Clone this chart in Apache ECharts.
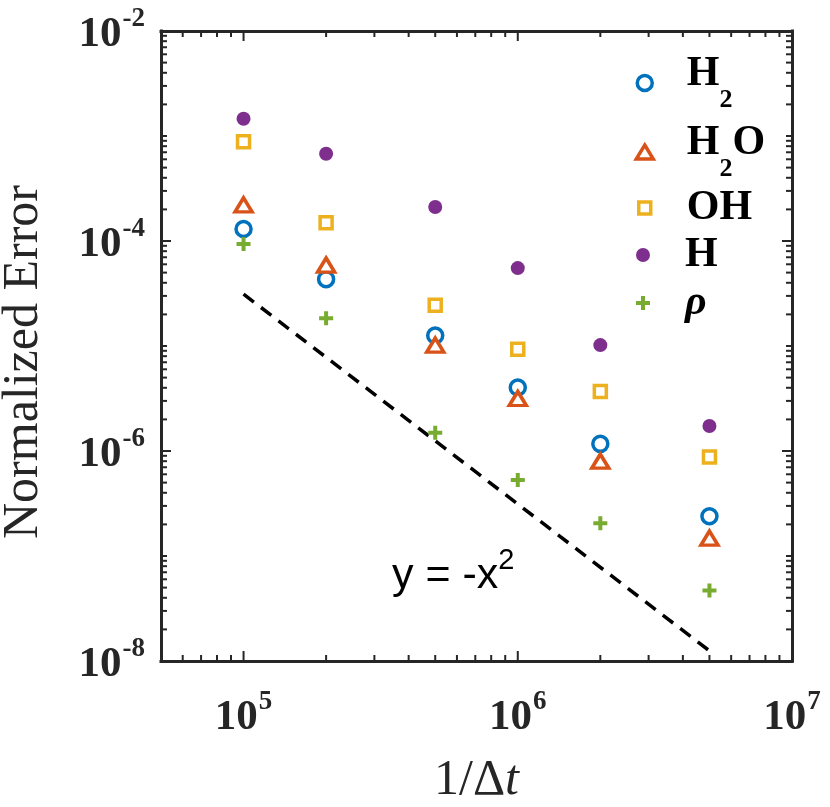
<!DOCTYPE html>
<html><head><meta charset="utf-8">
<script src="https://cdn.jsdelivr.net/npm/echarts@6/dist/echarts.min.js"></script>
<style>html,body{margin:0;padding:0;background:#fff}#c{width:830px;height:807px}</style>
</head><body><div id="c"></div>
<script>
// ---- data ----
const xValues = [1e5, 2e5, 5e5, 1e6, 2e6, 5e6];
const h2Err   = [1.30e-4, 4.33e-5, 1.26e-5, 4.03e-6, 1.17e-6, 2.39e-7];
const h2oErr  = [2.21e-4, 5.90e-5, 1.02e-5, 3.16e-6, 8.00e-7, 1.48e-7];
const ohErr   = [8.83e-4, 1.49e-4, 2.45e-5, 9.30e-6, 3.69e-6, 8.77e-7];
const hErr    = [1.46e-3, 6.78e-4, 2.11e-4, 5.52e-5, 1.02e-5, 1.73e-6];
const rhoErr  = [9.36e-5, 1.84e-5, 1.49e-6, 5.28e-7, 2.05e-7, 4.70e-8];
const refLineX = [1e5, 5e6];
const refLineY = [3.12e-5, 1.25e-8];
const seriesNames = ['H2', 'H2O', 'OH', 'H', 'ρ'];
// axis ticks
const xMajorTicks = [1e5, 1e6, 1e7];
const yMajorTicks = [1e-8, 1e-6, 1e-4, 1e-2];
const xMinorMult = [2, 3, 4, 5, 6, 7, 8, 9];
const xDecades = [1e4, 1e5, 1e6];
const yDecades = [1e-8, 1e-7, 1e-6, 1e-5, 1e-4, 1e-3];
const X_MIN = 5e4, X_MAX = 1e7, Y_MIN = 1e-8, Y_MAX = 1e-2;

const xMinorTicks = [];
xDecades.forEach(d => xMinorMult.forEach(m => { const v = d * m; if (v > X_MIN && v < X_MAX) xMinorTicks.push(v); }));
const yMinorTicks = [];
yDecades.forEach(d => { if (yMajorTicks.indexOf(d) < 0) yMinorTicks.push(d); xMinorMult.forEach(m => yMinorTicks.push(d * m)); });

const AX = '#262626';
const COLORS = ['#0072BD', '#D95319', '#EDB120', '#7E2F8E', '#77AC30'];

function pairs(xs, ys) { return xs.map((x, i) => [x, ys[i]]); }
function expOf(v) { return Math.log10(v); }
function fmtX(v) {
  const e = expOf(v), r = Math.round(e);
  if (Math.abs(e - r) > 1e-6) return '';
  return '{b|10}{s|' + r + '}';
}
function fmtY(v) {
  const e = expOf(v), r = Math.round(e);
  if (Math.abs(e - r) > 1e-6 || r % 2 !== 0) return '';
  return '{b|10}{s|' + r + '}';
}
const tickRich = {
  b: { fontFamily: 'Liberation Serif', fontWeight: 'bold', fontSize: 43, color: AX, lineHeight: 50, verticalAlign: 'bottom' },
  s: { fontFamily: 'Liberation Serif', fontWeight: 'bold', fontSize: 27, color: AX, lineHeight: 27, verticalAlign: 'top', padding: [0, 0, 0, 1] }
};

const plus = 'path://M5,0H9V5H14V9H9V14H5V9H0V5H5Z';
const symbols = ['circle', 'triangle', 'rect', 'circle', plus];
const symSizes = [15, [17, 14], 12, 14, 14];
const hollow = [true, true, true, false, false];
const dataSets = [h2Err, h2oErr, ohErr, hErr, rhoErr];

const scatterSeries = seriesNames.map((n, i) => ({
  name: n,
  type: 'scatter',
  data: pairs(xValues, dataSets[i]),
  symbol: symbols[i],
  symbolSize: symSizes[i],
  itemStyle: hollow[i]
    ? { color: '#ffffff', borderColor: COLORS[i], borderWidth: 3.5, opacity: 1 }
    : { color: COLORS[i], borderWidth: 0, opacity: 1 },
  z: 5
}));

function tickSeries(values, isX, major) {
  return {
    type: 'custom',
    silent: true,
    clip: false,
    z: 10,
    data: values.map(v => isX ? [v, Y_MIN] : [X_MIN, v]),
    renderItem: function (params, api) {
      const L = major ? 10 : 6;
      const st = { stroke: AX, lineWidth: 2 };
      if (isX) {
        const v = api.value(0);
        const b = api.coord([v, Y_MIN]), t = api.coord([v, Y_MAX]);
        return { type: 'group', children: [
          { type: 'line', shape: { x1: b[0], y1: b[1], x2: b[0], y2: b[1] - L }, style: st },
          { type: 'line', shape: { x1: t[0], y1: t[1], x2: t[0], y2: t[1] + L }, style: st }
        ]};
      } else {
        const v = api.value(1);
        const l = api.coord([X_MIN, v]), r = api.coord([X_MAX, v]);
        return { type: 'group', children: [
          { type: 'line', shape: { x1: l[0], y1: l[1], x2: l[0] + L, y2: l[1] }, style: st },
          { type: 'line', shape: { x1: r[0], y1: r[1], x2: r[0] - L, y2: r[1] }, style: st }
        ]};
      }
    }
  };
}

const SUB_LH = 60;
const legendRich = {
  m: { fontFamily: 'Liberation Serif', fontWeight: 'bold', fontSize: 42, color: '#000', lineHeight: 42, verticalAlign: 'top' },
  sub: { fontFamily: 'Liberation Serif', fontWeight: 'bold', fontSize: 26, color: '#000', lineHeight: SUB_LH, verticalAlign: 'bottom' },
  g: { fontFamily: 'Liberation Serif', fontWeight: 'bold', fontStyle: 'italic', fontSize: 42, color: '#000', lineHeight: 42, verticalAlign: 'top' }
};
const legendText = {
  'H2': '{m|H}{sub|2}',
  'H2O': '{m|H}{sub|2}{m|O}',
  'OH': '{m|OH}',
  'H': '{m|H}',
  'ρ': '{g|ρ}'
};
const legendCenterY = [83, 152, 208, 255, 303];
const legendIcon = [[15, 15], [17, 14], [12, 12], [14, 14], [14, 14]];
const hasSub = [true, true, false, false, false];
const legends = seriesNames.map((n, i) => {
  const w = legendIcon[i][0], h = legendIcon[i][1];
  const padL = 685 - (643 - w / 2) - w - 5;
  const textH = hasSub[i] ? SUB_LH : 42;
  const itemH = Math.max(h, textH);
  return {
    data: [n],
    orient: 'vertical',
    left: 643 - w / 2,
    top: legendCenterY[i] - itemH / 2,
    itemWidth: w,
    itemHeight: h,
    padding: 0,
    selectedMode: false,
    itemStyle: hollow[i] ? { borderWidth: 3.5, borderColor: COLORS[i], color: '#fff' } : { borderWidth: 0 },
    formatter: name => legendText[name],
    textStyle: { rich: legendRich, padding: [0, 0, 0, padL] }
  };
});

const baseAxisLine = { show: true, onZero: false, lineStyle: { color: AX, width: 3, cap: 'square' } };

const option = {
  animation: false,
  backgroundColor: '#ffffff',
  grid: { left: 161, right: 38, top: 31, bottom: 146, containLabel: false, outerBoundsMode: 'none' },
  legend: legends,
  xAxis: [
    {
      type: 'log', logBase: 10, min: X_MIN, max: X_MAX, position: 'bottom',
      axisLine: baseAxisLine, axisTick: { show: false }, splitLine: { show: false }, minorTick: { show: false },
      axisLabel: { formatter: fmtX, rich: tickRich, margin: 28, showMinLabel: false, hideOverlap: false },
      name: '{a|1/Δ}{i|t}', nameLocation: 'middle', nameGap: 95,
      nameTextStyle: { rich: {
        a: { fontFamily: 'Liberation Serif', fontSize: 50, color: AX },
        i: { fontFamily: 'Liberation Serif', fontStyle: 'italic', fontSize: 50, color: AX }
      } }
    },
    {
      type: 'log', logBase: 10, min: X_MIN, max: X_MAX, position: 'top',
      axisLine: baseAxisLine, axisTick: { show: false }, splitLine: { show: false }, axisLabel: { show: false }
    }
  ],
  yAxis: [
    {
      type: 'log', logBase: 10, min: Y_MIN, max: Y_MAX, position: 'left',
      axisLine: baseAxisLine, axisTick: { show: false }, splitLine: { show: false }, minorTick: { show: false },
      axisLabel: { formatter: fmtY, rich: tickRich, margin: 16, hideOverlap: false },
      name: 'Normalized Error', nameLocation: 'middle', nameGap: 112, nameRotate: 90,
      nameTextStyle: { fontFamily: 'Liberation Serif', fontSize: 50, color: AX, padding: [0, 32, 0, 0] }
    },
    {
      type: 'log', logBase: 10, min: Y_MIN, max: Y_MAX, position: 'right',
      axisLine: baseAxisLine, axisTick: { show: false }, splitLine: { show: false }, axisLabel: { show: false }
    }
  ],
  graphic: [{
    type: 'text', left: 392, top: 546, silent: true,
    style: {
      text: '{a|y = -x}{s|2}',
      rich: {
        a: { fontFamily: 'Liberation Sans', fontSize: 43, fill: '#000', lineHeight: 52, verticalAlign: 'bottom' },
        s: { fontFamily: 'Liberation Sans', fontSize: 29, fill: '#000', lineHeight: 29, verticalAlign: 'top' }
      }
    }
  }],
  series: [
    {
      name: 'ref', type: 'line', data: pairs(refLineX, refLineY), showSymbol: false, symbol: 'none',
      lineStyle: { color: '#000', width: 3.5, type: [13, 9] }, z: 3, silent: true
    },
    ...scatterSeries,
    tickSeries(xMajorTicks, true, true),
    tickSeries(xMinorTicks, true, false),
    tickSeries(yMajorTicks, false, true),
    tickSeries(yMinorTicks, false, false)
  ]
};
const chart = echarts.init(document.getElementById('c'), null, { renderer: 'canvas' });
chart.setOption(option);
</script>
</body></html>
